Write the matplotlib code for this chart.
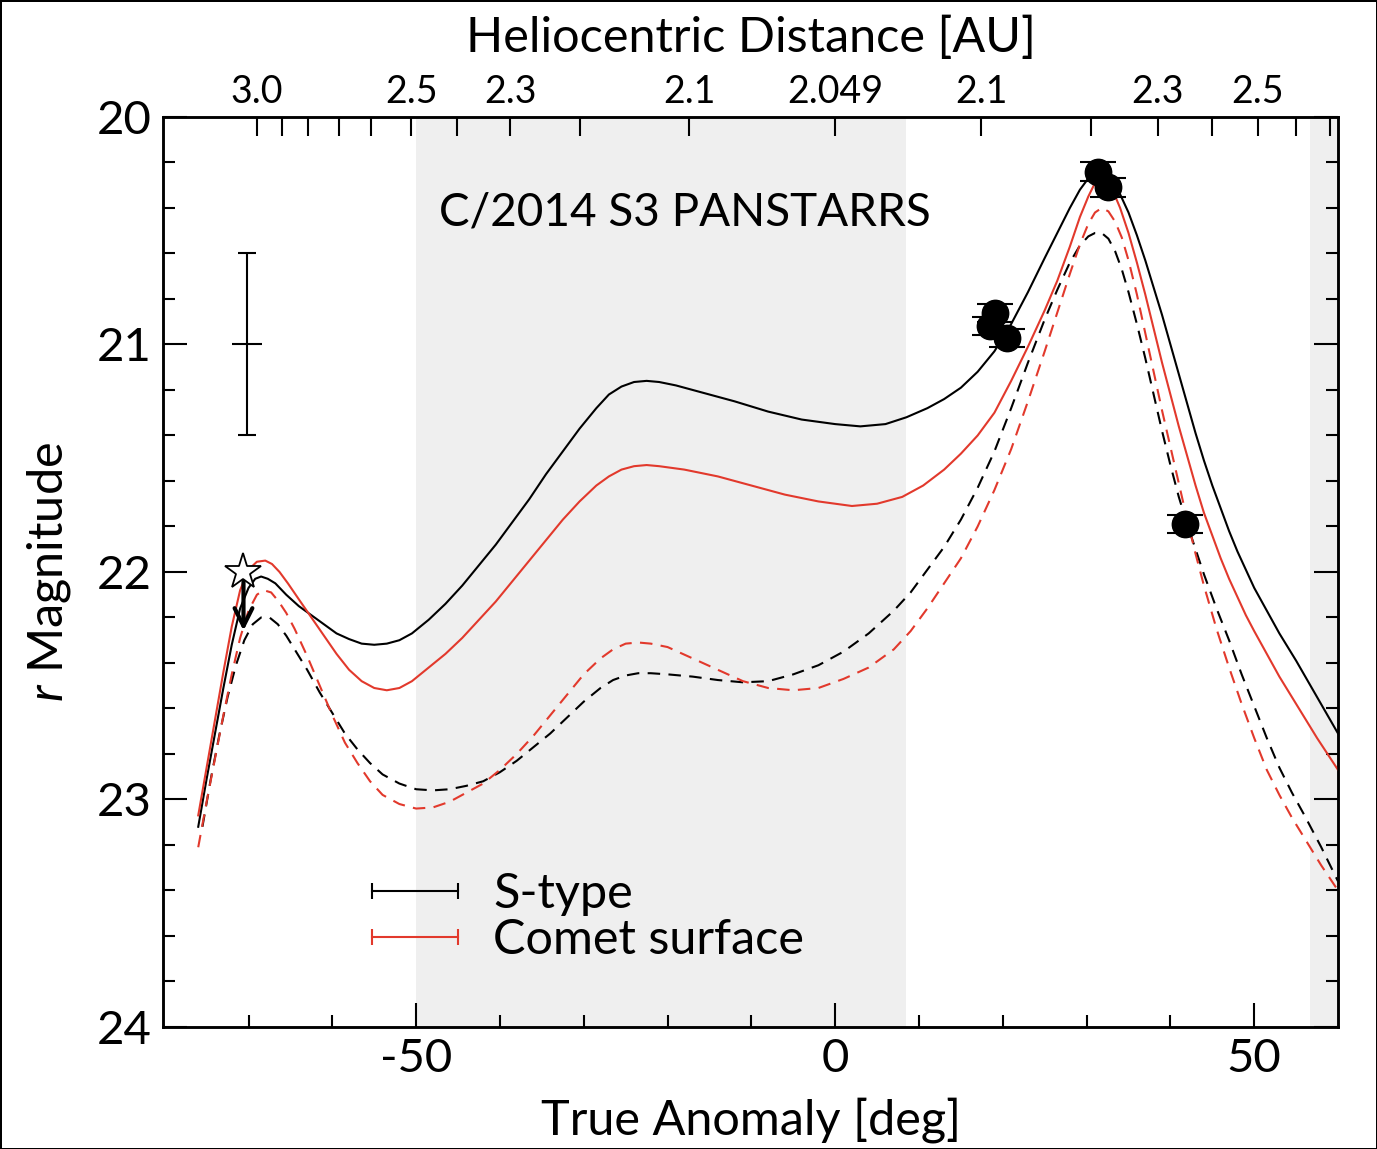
import matplotlib
matplotlib.use("Agg")
import matplotlib.pyplot as plt
from matplotlib.lines import Line2D
from matplotlib.legend_handler import HandlerLine2D

plt.rcParams['font.family'] = ['Lato', 'DejaVu Sans']
plt.rcParams['mathtext.fontset'] = 'custom'
plt.rcParams['mathtext.it'] = 'Lato:italic'
plt.rcParams['mathtext.rm'] = 'Lato'
plt.rcParams['axes.unicode_minus'] = False

# model light curves (true anomaly [deg], r magnitude)
s_solid_x = [-76, -75, -74, -73, -72, -71, -70, -69.2, -68.5, -67.7, -66.8, -65.5, -64, -62.5, -61, -59.5, -58,
             -56.5, -55, -53.5, -52, -50.5, -48.5, -46.5, -44.5, -42.5, -40.5, -38.5, -36.5, -34.5, -32.5, -30.5,
             -28.5, -27, -25.5, -24, -22.5, -21, -19, -16, -12, -8, -4, 0, 3, 6, 8.5, 11, 13, 15, 17, 19, 21, 23,
             25, 26.5, 28, 29.2, 30.2, 31, 31.7, 32.4, 33.2, 34, 35, 36, 37, 38, 39, 40, 41, 42, 43, 44, 45, 46,
             47, 48, 49, 50, 51.5, 53, 55, 57.5, 60]
s_solid_y = [23.12, 22.91, 22.71, 22.51, 22.32, 22.16, 22.07, 22.03, 22.02, 22.03, 22.05, 22.10, 22.15, 22.19, 22.23,
             22.27, 22.295, 22.315, 22.32, 22.315, 22.30, 22.27, 22.21, 22.14, 22.06, 21.97, 21.88, 21.78, 21.68,
             21.57, 21.47, 21.37, 21.28, 21.22, 21.185, 21.165, 21.16, 21.165, 21.18, 21.21, 21.25, 21.295, 21.33,
             21.35, 21.36, 21.35, 21.32, 21.28, 21.24, 21.19, 21.12, 21.03, 20.91, 20.77, 20.62, 20.51, 20.40, 20.32,
             20.27, 20.245, 20.24, 20.25, 20.285, 20.34, 20.42, 20.52, 20.63, 20.75, 20.87, 21.00, 21.13, 21.26,
             21.39, 21.51, 21.62, 21.72, 21.82, 21.91, 21.99, 22.07, 22.17, 22.27, 22.39, 22.55, 22.71]

c_solid_x = [-76, -75, -74, -73, -72, -71, -70, -69, -68, -67.2, -66.3, -65.3, -64, -62.5, -61, -59.5, -58, -56.5,
             -55, -53.5, -52, -50.5, -48.5, -46.5, -44.5, -42.5, -40.5, -38.5, -36.5, -34.5, -32.5, -30.5, -28.5,
             -27, -25.5, -24, -22.5, -21, -18, -14, -10, -6, -2, 2, 5, 8, 10.5, 13, 15, 17, 19, 21, 23, 25, 26.5,
             28, 29.2, 30.2, 31, 31.7, 32.4, 33.2, 34, 35, 36, 37, 38, 39, 40, 41, 42, 43, 44, 45, 46, 47, 48, 49,
             50, 51.5, 53, 55, 57.5, 60]
c_solid_y = [23.07, 22.86, 22.65, 22.44, 22.24, 22.08, 21.99, 21.955, 21.95, 21.965, 22.00, 22.05, 22.12, 22.20,
             22.28, 22.36, 22.43, 22.48, 22.51, 22.52, 22.51, 22.48, 22.42, 22.36, 22.29, 22.21, 22.13, 22.04, 21.95,
             21.86, 21.77, 21.69, 21.62, 21.58, 21.55, 21.535, 21.53, 21.535, 21.55, 21.58, 21.62, 21.66, 21.69,
             21.71, 21.70, 21.67, 21.62, 21.55, 21.48, 21.40, 21.30, 21.16, 21.01, 20.85, 20.72, 20.57, 20.44, 20.35,
             20.29, 20.27, 20.28, 20.33, 20.40, 20.51, 20.64, 20.78, 20.93, 21.08, 21.22, 21.36, 21.49, 21.62, 21.74,
             21.84, 21.94, 22.03, 22.11, 22.19, 22.26, 22.36, 22.46, 22.58, 22.73, 22.87]

s_dash_x = [-75.5, -74.5, -73.5, -72.5, -71.5, -70.5, -69.5, -68.5, -67.5, -66.5, -65.5, -64.5, -63, -61.5, -60,
            -58.5, -57, -55.5, -54, -52, -50, -48, -46, -44, -42, -40, -38, -36, -34, -32, -30, -28, -26.5, -25,
            -23.5, -22, -20, -17, -14, -11, -8, -5, -2, 1, 4, 7, 9, 11, 13, 15, 17, 19, 21, 23, 25, 26.5, 28,
            29.2, 30.2, 31, 31.8, 32.6, 33.4, 34.2, 35, 36, 37, 38, 39, 40, 41, 42, 43, 44, 45.5, 47, 48.5, 50,
            51.5, 53, 54.5, 56, 58, 60]
s_dash_y = [23.12, 22.91, 22.72, 22.55, 22.41, 22.30, 22.23, 22.20, 22.20, 22.23, 22.28, 22.34, 22.43, 22.53, 22.62,
            22.71, 22.78, 22.84, 22.89, 22.93, 22.955, 22.96, 22.955, 22.94, 22.92, 22.88, 22.83, 22.77, 22.71,
            22.64, 22.57, 22.51, 22.475, 22.455, 22.445, 22.445, 22.45, 22.46, 22.475, 22.485, 22.48, 22.45, 22.41,
            22.35, 22.27, 22.17, 22.09, 21.99, 21.89, 21.77, 21.63, 21.47, 21.28, 21.08, 20.89, 20.76, 20.64, 20.565,
            20.525, 20.51, 20.51, 20.535, 20.59, 20.67, 20.77, 20.91, 21.06, 21.22, 21.38, 21.53, 21.67, 21.79,
            21.90, 22.01, 22.16, 22.30, 22.45, 22.59, 22.73, 22.86, 22.97, 23.07, 23.21, 23.36]

c_dash_x = [-76, -75, -74, -73, -72, -71, -70, -69, -68.2, -67.3, -66.4, -65.5, -64.5, -63, -61.5, -60, -58.5, -57,
            -55.5, -54, -52, -50, -48, -46, -44, -42, -40, -38, -36, -34, -32, -30, -28, -26.5, -25, -23.5, -22,
            -20, -17, -14, -11, -8, -5, -2, 1, 4, 7, 9, 11, 13, 15, 17, 19, 21, 23, 25, 26.5, 28, 29.2, 30.2, 31,
            31.8, 32.6, 33.4, 34.2, 35, 36, 37, 38, 39, 40, 41, 42, 43, 44, 45.5, 47, 48.5, 50, 51.5, 53, 54.5,
            56, 58, 60]
c_dash_y = [23.21, 23.01, 22.82, 22.63, 22.45, 22.29, 22.17, 22.10, 22.08, 22.09, 22.13, 22.18, 22.25, 22.37, 22.50,
            22.63, 22.75, 22.84, 22.92, 22.98, 23.02, 23.04, 23.035, 23.01, 22.97, 22.93, 22.87, 22.80, 22.72, 22.63,
            22.54, 22.45, 22.38, 22.34, 22.315, 22.31, 22.315, 22.33, 22.38, 22.43, 22.48, 22.51, 22.52, 22.51,
            22.47, 22.42, 22.34, 22.26, 22.16, 22.05, 21.94, 21.80, 21.64, 21.46, 21.25, 21.03, 20.86, 20.69, 20.56,
            20.47, 20.42, 20.40, 20.415, 20.46, 20.53, 20.63, 20.78, 20.95, 21.12, 21.29, 21.45, 21.61, 21.77, 21.92,
            22.06, 22.25, 22.42, 22.58, 22.73, 22.87, 22.98, 23.08, 23.17, 23.29, 23.40]

# observations
obs_x = [18.5, 19.1, 20.5, 31.4, 32.6, 41.8]
obs_y = [20.92, 20.86, 20.97, 20.24, 20.31, 21.79]
obs_err = [0.04, 0.04, 0.04, 0.04, 0.04, 0.04]

limit_x, limit_y, limit_tip = -70.6, 22.0, 22.27     # upper limit (star + arrow)
scale_x, scale_y, scale_err = -70.2, 21.0, 0.4       # typical uncertainty bar

shade_spans = [(-50, 8.4), (56.7, 60)]

# top axis: heliocentric distance ticks
helio_pos = [-69.0, -50.6, -38.8, -17.4, 0.0, 17.4, 38.5, 50.4]
helio_lab = ['3.0', '2.5', '2.3', '2.1', '2.049', '2.1', '2.3', '2.5']
helio_minor = [-66.0, -62.9, -59.2, -55.4, -45.1, -30.5, 30.5, 45.0, 55.0, 59.1]

red = '#e2392c'

fig = plt.figure(figsize=(13.77, 11.49), dpi=100)
fig.patch.set_edgecolor('black')
fig.patch.set_linewidth(2)
ax = fig.add_axes([0.1184, 0.1062, 0.8533, 0.792])

for a, b in shade_spans:
    ax.axvspan(a, b, color='#efefef', lw=0, zorder=0)

ax.plot(s_solid_x, s_solid_y, color='black', lw=1.5, zorder=3)
ax.plot(c_solid_x, c_solid_y, color=red, lw=1.5, zorder=3)
ax.plot(s_dash_x, s_dash_y, color='black', lw=1.5, ls=(0, (6, 4)), zorder=3)
ax.plot(c_dash_x, c_dash_y, color=red, lw=1.5, ls=(0, (6, 4)), zorder=3)

ax.errorbar(obs_x, obs_y, yerr=obs_err, fmt='o', color='black', ms=19, capsize=13,
            capthick=1.5, elinewidth=1.5, zorder=5)

ax.errorbar([scale_x], [scale_y], yerr=[scale_err], fmt='_', color='black', ms=22, mew=1.5,
            capsize=6.5, capthick=1.5, elinewidth=1.5, zorder=4)

ax.annotate('', xy=(limit_x, limit_tip), xytext=(limit_x, limit_y + 0.03),
            arrowprops=dict(arrowstyle='->', lw=3, color='black', mutation_scale=32), zorder=6)
ax.plot([limit_x], [limit_y], marker='*', ms=27, mfc='white', mec='black', mew=1.3, zorder=7)

ax.text(-17.9, 20.42, 'C/2014 S3 PANSTARRS', fontsize=33, ha='center', va='center')

ax.set_xlim(-80.2, 60)
ax.set_ylim(24, 20)
ax.set_xticks([-50, 0, 50])
ax.set_xticks(range(-70, 60, 10), minor=True)
ax.set_yticks([20, 21, 22, 23, 24])
ax.set_yticks([20 + 0.2 * i for i in range(21)], minor=True)
ax.tick_params(which='both', direction='in', top=False, right=True, width=1.5)
ax.tick_params(which='major', length=17, labelsize=34)
ax.tick_params(which='minor', length=8.6)
ax.tick_params(axis='y', pad=8)
ax.tick_params(axis='x', pad=8)
for s in ax.spines.values():
    s.set_linewidth(1.8)

ax.set_xlabel('True Anomaly [deg]', fontsize=35, labelpad=12)
ax.set_ylabel('$r$ Magnitude', fontsize=35, labelpad=17)

ax2 = ax.twiny()
ax2.set_xlim(ax.get_xlim())
ax2.set_xticks(helio_pos)
ax2.set_xticklabels(helio_lab)
ax2.set_xticks(helio_minor, minor=True)
ax2.tick_params(which='both', direction='in', length=14, width=1.5, labelsize=27, pad=5)
ax2.set_xlabel('Heliocentric Distance [AU]', fontsize=35, labelpad=16)
for s in ax2.spines.values():
    s.set_linewidth(1.8)

handles = [Line2D([], [], color='black', lw=1.5, marker='|', ms=11, mew=1.5),
           Line2D([], [], color=red, lw=1.5, marker='|', ms=11, mew=1.5)]
ax.legend(handles, ['S-type', 'Comet surface'], numpoints=2, frameon=False, fontsize=35,
          loc='center left', bbox_to_anchor=(0.178, 0.1205), borderaxespad=0, borderpad=0,
          handlelength=1.77, handletextpad=0.72, labelspacing=0.045,
          handler_map={Line2D: HandlerLine2D(marker_pad=0)})

fig.savefig('out.png', dpi=100)
